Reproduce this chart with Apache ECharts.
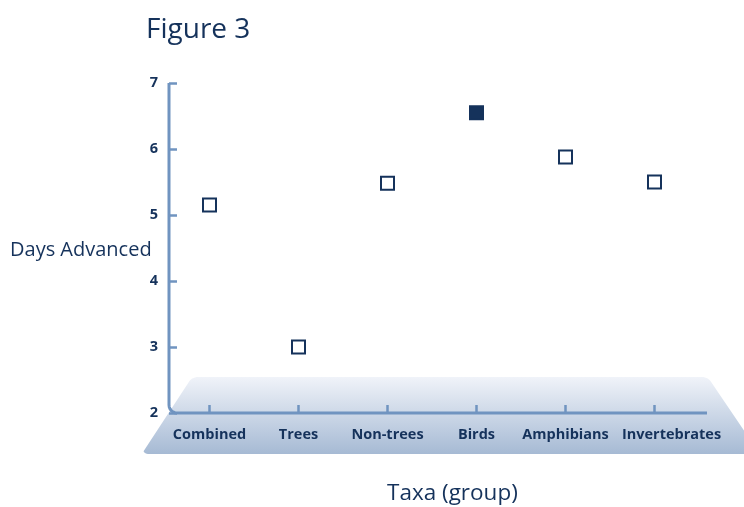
<!DOCTYPE html>
<html>
<head>
<meta charset="utf-8">
<script src="https://cdn.jsdelivr.net/npm/echarts@6/dist/echarts.min.js"></script>
<style>html,body{margin:0;padding:0;background:#fff;}#c{width:744px;height:507px;}</style>
</head>
<body>
<div id="c"></div>
<script>
const categories = ['Combined', 'Trees', 'Non-trees', 'Birds', 'Amphibians', 'Invertebrates'];
const values = [5.15, 3.0, 5.48, 6.55, 5.88, 5.5];
const filled = [false, false, false, true, false, false];
const yTicks = [2, 3, 4, 5, 6, 7];

const NAVY = '#15325b';
const AXIS = '#7094c0';
const FONT = '"Open Sans", "Noto Sans", sans-serif';

// small helper for a rounded corner (decoration only)
function arcPts(cx, cy, r, a0, a1, n) {
  const pts = [];
  for (let i = 0; i <= n; i++) {
    const a = a0 + (a1 - a0) * i / n;
    pts.push([cx + r * Math.cos(a), cy + r * Math.sin(a)]);
  }
  return pts;
}

const chart = echarts.init(document.getElementById('c'));
const gridLeft = 165, gridTop = 83, gridBottom = 94, gridWidth = 534;

const platform = [].concat(
  arcPts(148, 449, 5, Math.PI * 0.5, Math.PI * 0.85, 4),
  arcPts(198, 388, 11, Math.PI * 1.15, Math.PI * 1.5, 8),
  arcPts(702, 388, 11, Math.PI * 1.5, Math.PI * 1.85, 8),
  [[760, 454]]
);
const axisL = [].concat(
  [[169, 83]],
  arcPts(177, 405, 8, Math.PI, Math.PI * 0.5, 6),
  [[707, 413]]
);

const option = {
  animation: false,
  title: [
    { text: 'Figure 3', left: 146, top: 16, padding: 0, textStyle: { color: NAVY, fontFamily: FONT, fontSize: 28, fontWeight: 'normal' } },
    { text: 'Days Advanced', left: 10, top: 240, padding: 0, textStyle: { color: NAVY, fontFamily: FONT, fontSize: 20, fontWeight: 'normal' } },
    { text: 'Taxa (group)', left: 387, top: 482, padding: 0, textStyle: { color: NAVY, fontFamily: FONT, fontSize: 22.5, fontWeight: 'normal' } }
  ],
  grid: { left: gridLeft, top: gridTop, bottom: gridBottom, width: gridWidth, containLabel: false },
  graphic: [
    {
      type: 'polygon', z: -10, silent: true,
      shape: { points: platform },
      style: {
        fill: { type: 'linear', x: 0, y: 0, x2: 0, y2: 1, colorStops: [
          { offset: 0, color: '#f0f3f9' },
          { offset: 1, color: '#a6bad4' }
        ] }
      }
    },
    {
      type: 'polyline', z: 1, silent: true,
      shape: { points: axisL },
      style: { fill: null, stroke: AXIS, lineWidth: 3 }
    }
  ],
  xAxis: {
    type: 'category',
    data: categories.map((c, i) => i === categories.length - 1
      ? { value: c, textStyle: { padding: [0, 0, 0, 34] } }
      : c),
    boundaryGap: true,
    axisLine: { show: false },
    axisTick: { show: true, interval: 0, alignWithLabel: true, inside: true, length: 8, lineStyle: { color: AXIS, width: 2.5 } },
    axisLabel: { interval: 0, color: NAVY, fontFamily: FONT, fontSize: 14.5, fontWeight: 'bold', margin: 14 },
    splitLine: { show: false }
  },
  yAxis: {
    type: 'value',
    min: 2, max: 7, interval: 1,
    offset: -4,
    axisLine: { show: false },
    axisTick: { show: true, inside: true, length: 8, lineStyle: { color: AXIS, width: 2.5 } },
    axisLabel: { color: NAVY, fontFamily: FONT, fontSize: 14.5, fontWeight: 'bold', margin: 11,
      formatter: v => yTicks.includes(v) ? String(v) : '' },
    splitLine: { show: false }
  },
  series: [{
    type: 'scatter',
    symbol: 'rect',
    symbolSize: 13,
    z: 5,
    data: values.map((v, i) => ({
      value: v,
      itemStyle: { color: filled[i] ? NAVY : '#ffffff', borderColor: NAVY, borderWidth: 2, opacity: 1 }
    }))
  }]
};
chart.setOption(option);
</script>
</body>
</html>
